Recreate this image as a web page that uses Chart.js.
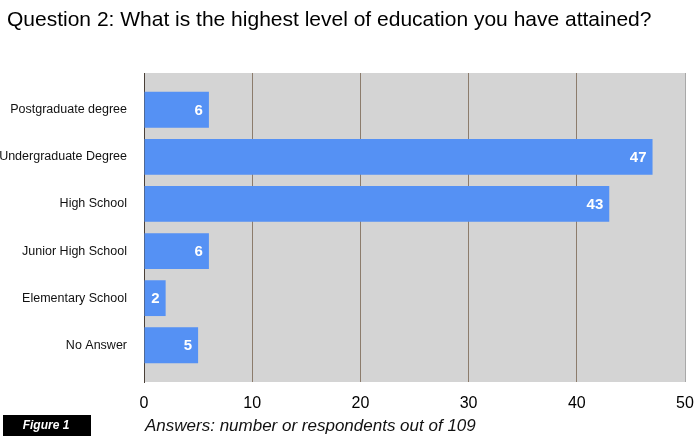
<!DOCTYPE html>
<html lang="en">
<head>
    <meta charset="UTF-8">
    <title>Question 2 - Education</title>
    <script src="https://cdn.jsdelivr.net/npm/chart.js"></script>
    <style>
        html, body { margin: 0; padding: 0; background: #fff; }
        #wrap { width: 700px; height: 440px; position: relative; }
    </style>
</head>
<body>
    <div id="wrap"><canvas id="eduChart"></canvas></div>

    <script>
        // Chart data
        const categories = ['Postgraduate degree', 'Undergraduate Degree', 'High School', 'Junior High School', 'Elementary School', 'No Answer'];
        const answers = [6, 47, 43, 6, 2, 5];
        const xTicks = [0, 10, 20, 30, 40, 50];

        const titleText = 'Question 2: What is the highest level of education you have attained?';
        const axisTitle = 'Answers: number or respondents out of 109';
        const figureLabel = 'Figure 1';

        const FONT = '"Liberation Sans", Arial, Helvetica, sans-serif';

        // bars sit on a numeric y scale so the grey area can run past the first/last row
        const barPoints = answers.map((v, i) => ({ x: v, y: i }));

        // grey plot background + extra texts
        const decorPlugin = {
            id: 'decor',
            beforeDraw(chart) {
                const { ctx, chartArea } = chart;
                ctx.save();
                ctx.fillStyle = '#d4d4d4';
                ctx.fillRect(chartArea.left, chartArea.top, chartArea.right - chartArea.left, chartArea.bottom - chartArea.top);
                ctx.restore();
            },
            afterDraw(chart) {
                const { ctx, chartArea } = chart;
                ctx.save();
                // title
                ctx.fillStyle = '#000';
                ctx.font = '21px ' + FONT;
                ctx.textAlign = 'left';
                ctx.textBaseline = 'alphabetic';
                ctx.fillText(titleText, 7, 26);

                // figure box
                ctx.fillStyle = '#000';
                ctx.fillRect(3, 415, 88, 21);
                ctx.fillStyle = '#fff';
                ctx.font = 'italic bold 12px ' + FONT;
                ctx.textAlign = 'center';
                ctx.textBaseline = 'middle';
                ctx.fillText(figureLabel, 46, 426);

                // axis title
                ctx.fillStyle = '#111';
                ctx.font = 'italic 17px ' + FONT;
                ctx.textAlign = 'left';
                ctx.textBaseline = 'middle';
                ctx.fillText(axisTitle, chartArea.left + 1, 426);
                ctx.restore();
            }
        };

        // white value labels at bar ends
        const valueLabels = {
            id: 'valueLabels',
            afterDatasetsDraw(chart) {
                const { ctx } = chart;
                const meta = chart.getDatasetMeta(0);
                ctx.save();
                ctx.fillStyle = '#fff';
                ctx.font = 'bold 15px ' + FONT;
                ctx.textAlign = 'right';
                ctx.textBaseline = 'middle';
                meta.data.forEach((bar, i) => {
                    ctx.fillText(String(answers[i]), bar.x - 6, bar.y + 1);
                });
                ctx.restore();
            }
        };

        new Chart(document.getElementById('eduChart'), {
            type: 'bar',
            data: {
                datasets: [{
                    data: barPoints,
                    backgroundColor: '#5591f4',
                    borderWidth: 0,
                    categoryPercentage: 1,
                    barPercentage: 0.76
                }]
            },
            options: {
                indexAxis: 'y',
                responsive: true,
                maintainAspectRatio: false,
                animation: false,
                layout: { padding: { top: 73, right: 15, bottom: 0, left: 0 } },
                plugins: {
                    legend: { display: false },
                    tooltip: { enabled: false }
                },
                scales: {
                    x: {
                        type: 'linear',
                        min: 0,
                        max: 50,
                        afterBuildTicks: (scale) => { scale.ticks = xTicks.map(v => ({ value: v })); },
                        afterFit: (scale) => {
                            scale.height = 58;
                            scale.paddingLeft = 0;
                            scale.paddingRight = 0;
                        },
                        border: { display: false },
                        grid: {
                            drawTicks: false,
                            color: (c) => {
                                const v = c.tick ? c.tick.value : null;
                                if (v === 0) return 'rgba(0,0,0,0)';
                                if (v === 50) return '#a8a8a8';
                                return '#8c7c6c';
                            },
                            lineWidth: 1
                        },
                        ticks: {
                            padding: 12,
                            color: '#000',
                            font: { family: FONT, size: 16 }
                        }
                    },
                    y: {
                        type: 'linear',
                        reverse: true,
                        offset: false,
                        min: -0.78,
                        max: 5.78,
                        afterBuildTicks: (scale) => { scale.ticks = categories.map((c, i) => ({ value: i })); },
                        afterFit: (scale) => {
                            scale.width = 144;
                            scale.paddingTop = 0;
                            scale.paddingBottom = 0;
                        },
                        border: { display: true, color: '#4a4038', width: 1 },
                        grid: { display: false, drawTicks: false },
                        ticks: {
                            padding: 17,
                            color: '#111',
                            font: { family: FONT, size: 12.5 },
                            callback: (v) => categories[v] ?? ''
                        }
                    }
                }
            },
            plugins: [decorPlugin, valueLabels]
        });
    </script>
</body>
</html>
